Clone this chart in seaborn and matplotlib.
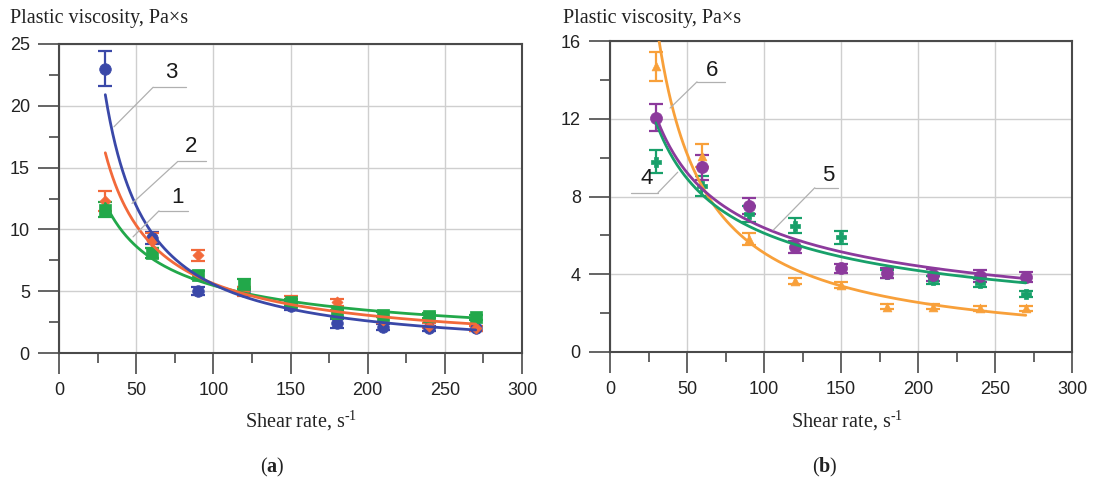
import numpy as np
import pandas as pd
import matplotlib
matplotlib.use("Agg")
import matplotlib.pyplot as plt
import seaborn as sns

# ---- measured data -------------------------------------------------------
shear_rate = [30, 60, 90, 120, 150, 180, 210, 240, 270]

# panel (a)
visc_1 = [11.6, 8.1, 6.3, 5.6, 4.1, 3.2, 3.1, 3.0, 2.9]
err_1 = [0.6, 0.4, 0.35, 0.4, 0.3, 0.3, 0.2, 0.2, 0.2]
visc_2 = [12.3, 9.1, 7.9, 5.0, 4.3, 4.1, 2.7, 2.2, 2.0]
err_2 = [0.8, 0.6, 0.45, 0.35, 0.35, 0.3, 0.25, 0.2, 0.2]
visc_3 = [23.0, 9.3, 5.0, 5.0, 3.8, 2.4, 2.1, 2.0, 2.0]
err_3 = [1.4, 0.5, 0.3, 0.3, 0.3, 0.35, 0.25, 0.2, 0.2]

# panel (b)
visc_4 = [9.8, 8.55, 7.1, 6.5, 5.9, 4.0, 3.7, 3.55, 3.0]
err_4 = [0.6, 0.5, 0.4, 0.4, 0.35, 0.2, 0.2, 0.2, 0.15]
visc_5 = [12.05, 9.5, 7.5, 5.4, 4.3, 4.05, 3.95, 3.9, 3.85]
err_5 = [0.7, 0.65, 0.4, 0.3, 0.25, 0.25, 0.3, 0.3, 0.25]
visc_6 = [14.7, 10.1, 5.8, 3.65, 3.45, 2.33, 2.33, 2.25, 2.25]
err_6 = [0.75, 0.6, 0.3, 0.15, 0.15, 0.12, 0.12, 0.12, 0.12]

# power-law regressions  eta = K * (rate / 30) ** n
fit_K = {"1": 12.1, "2": 16.2, "3": 20.9, "4": 11.8, "5": 12.1, "6": 17.0}
fit_n = {"1": -0.66, "2": -0.88, "3": -1.10, "4": -0.546, "5": -0.53, "6": -1.0}
fit_range = (30, 270)

x_ticks = [0, 50, 100, 150, 200, 250, 300]
y_ticks_a = [0, 5, 10, 15, 20, 25]
y_ticks_b = [0, 4, 8, 12, 16]

# ---- style ---------------------------------------------------------------
sns.set_theme(style="white")
plt.rcParams["font.family"] = ["Liberation Sans", "DejaVu Sans"]
plt.rcParams["mathtext.fontset"] = "custom"
plt.rcParams["mathtext.rm"] = "Liberation Serif"
plt.rcParams["mathtext.bf"] = "Liberation Serif:bold"

SERIF = ["Liberation Serif", "DejaVu Serif"]
TXT = "#222222"
SPINE = "#4a4a4a"
GRID = "#cfcfcf"

colors = {
    "1": "#22a84a", "2": "#f2693a", "3": "#3a48a8",
    "4": "#18a06a", "5": "#8c3a9c", "6": "#f8a03a",
}
markers = {"1": "s", "2": "D", "3": "o", "4": "P", "5": "o", "6": "^"}
msize = {"1": 65, "2": 32, "3": 70, "4": 45, "5": 75, "6": 40}

fig = plt.figure(figsize=(11.05, 4.78), dpi=100)
ax_a = fig.add_axes([59 / 1105, 125 / 478, 463 / 1105, 309 / 478])
ax_b = fig.add_axes([610 / 1105, 126 / 478, 462 / 1105, 311 / 478])


def style_axes(ax, yticks, yminor):
    ax.set_xlim(0, 300)
    ax.set_ylim(yticks[0], yticks[-1])
    ax.set_xticks(x_ticks)
    ax.set_xticks(np.arange(25, 300, 50), minor=True)
    ax.set_yticks(yticks)
    ax.set_yticks(yminor, minor=True)
    ax.grid(True, which="major", color=GRID, linewidth=1.0)
    ax.set_axisbelow(True)
    for s in ax.spines.values():
        s.set_visible(True)
        s.set_color(SPINE)
        s.set_linewidth(1.5)
    ax.tick_params(axis="both", which="major", direction="out", length=15,
                   width=1.2, color=SPINE, labelsize=13, labelcolor=TXT,
                   left=True, bottom=True, pad=6)
    ax.tick_params(axis="both", which="minor", direction="out", length=7,
                   width=1.2, color=SPINE, left=True, bottom=True)


def draw_series(ax, key, values, errors):
    c = colors[key]
    ax.errorbar(shear_rate, values, yerr=errors, fmt="none", ecolor=c,
                elinewidth=1.6, capsize=5, capthick=1.6, zorder=3)
    df = pd.DataFrame({"rate": shear_rate, "eta": values})
    sns.scatterplot(data=df, x="rate", y="eta", ax=ax, color=c,
                    marker=markers[key], s=msize[key], edgecolor=c,
                    linewidth=0.5, zorder=4, legend=False)


def draw_fit(ax, key):
    rate = np.linspace(fit_range[0], fit_range[1], 300)
    eta = fit_K[key] * (rate / 30.0) ** fit_n[key]
    df = pd.DataFrame({"rate": rate, "eta": eta})
    sns.lineplot(data=df, x="rate", y="eta", ax=ax, color=colors[key],
                 linewidth=2.0, zorder=5, legend=False)


def curve_label(ax, text, text_xy, h_left, h_right, h_y, tip):
    ax.text(text_xy[0], text_xy[1], text, fontsize=16, color="#1a1a1a",
            ha="center", va="center", zorder=6)
    ax.plot([h_left, h_right], [h_y, h_y], color="#b0b0b0", lw=0.9, zorder=6)
    start = h_left if tip[0] < h_left else h_right
    ax.plot([start, tip[0]], [h_y, tip[1]], color="#b0b0b0", lw=0.9, zorder=6)


# ---- panel (a) -----------------------------------------------------------
style_axes(ax_a, y_ticks_a, np.arange(2.5, 25, 5))
for key, v, e in (("3", visc_3, err_3), ("2", visc_2, err_2), ("1", visc_1, err_1)):
    draw_series(ax_a, key, v, e)
for key in ("1", "2", "3"):
    draw_fit(ax_a, key)
ax_a.set_xlabel("")
ax_a.set_ylabel("")
curve_label(ax_a, "3", (72.6, 22.7), 61, 82.3, 21.5, (35.6, 18.3))
curve_label(ax_a, "2", (85.5, 16.7), 77, 95.3, 15.5, (47.3, 12.1))
curve_label(ax_a, "1", (77.0, 12.6), 64.8, 83.6, 11.5, (48.0, 9.4))

# ---- panel (b) -----------------------------------------------------------
style_axes(ax_b, y_ticks_b, np.arange(2, 16, 4))
for key, v, e in (("6", visc_6, err_6), ("4", visc_4, err_4), ("5", visc_5, err_5)):
    draw_series(ax_b, key, v, e)
for key in ("6", "4", "5"):
    draw_fit(ax_b, key)
ax_b.set_xlabel("")
ax_b.set_ylabel("")
curve_label(ax_b, "6", (66, 14.5), 56.5, 74.7, 13.9, (39, 12.55))
curve_label(ax_b, "4", (24, 8.95), 13.6, 31.2, 8.2, (44, 9.25))
curve_label(ax_b, "5", (142, 9.1), 133, 148, 8.45, (106, 6.27))

# ---- titles and captions -------------------------------------------------
ylab = "Plastic viscosity, Pa\u00d7s"
# short hyphen (U+2010) in the exponent so mathtext keeps it as a dash
xlab = "Shear rate, s$^{\\mathregular{\u20101}}$"
fig.text(10 / 1105, 1 - 18 / 478, ylab, family=SERIF, fontsize=14.5,
         color=TXT, ha="left", va="center")
fig.text(563 / 1105, 1 - 18 / 478, ylab, family=SERIF, fontsize=14.5,
         color=TXT, ha="left", va="center")
fig.text(301 / 1105, 1 - 421 / 478, xlab, family=SERIF, fontsize=14.5,
         color=TXT, ha="center", va="center")
fig.text(847 / 1105, 1 - 421 / 478, xlab, family=SERIF, fontsize=14.5,
         color=TXT, ha="center", va="center")
fig.text(272 / 1105, 1 - 467 / 478, r"($\mathbf{a}$)", family=SERIF,
         fontsize=14.5, color=TXT, ha="center", va="center")
fig.text(825 / 1105, 1 - 467 / 478, r"($\mathbf{b}$)", family=SERIF,
         fontsize=14.5, color=TXT, ha="center", va="center")

fig.savefig("out.png", dpi=100, facecolor="white")
